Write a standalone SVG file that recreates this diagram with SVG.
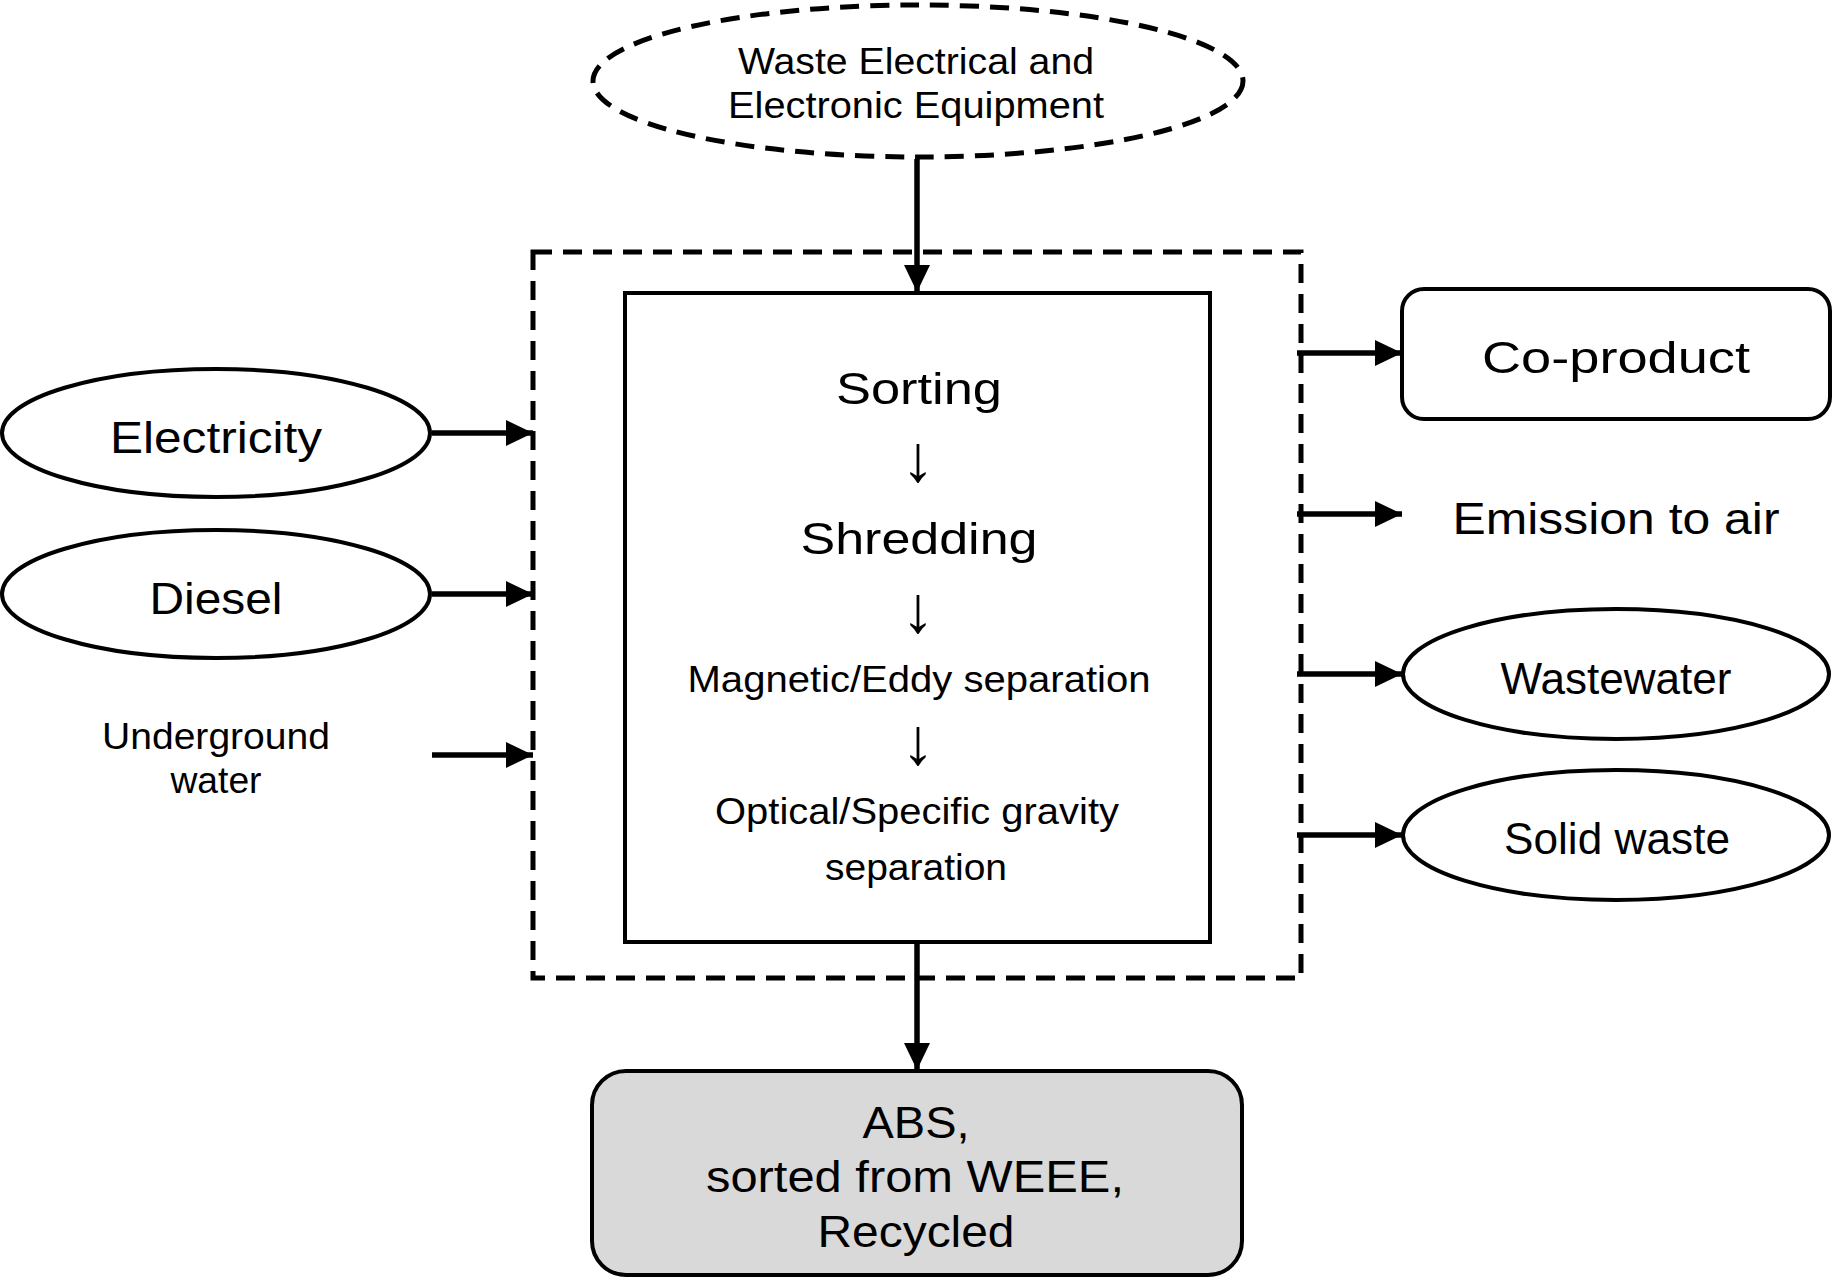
<svg xmlns="http://www.w3.org/2000/svg" width="1833" height="1284" viewBox="0 0 1833 1284">
<style>
  .shape { fill: #ffffff; stroke: #000000; stroke-width: 4; }
  .dash { fill: none; stroke: #000000; stroke-width: 5; stroke-dasharray: 19 11; }
  .conn { fill: none; stroke: #000000; stroke-width: 5.5; }
  text { font-family: "Liberation Sans", Arial, sans-serif; fill: #000000; text-anchor: middle; }
  .t36 { font-size: 36px; }
  .t44 { font-size: 44px; }
  .t45 { font-size: 45px; }
  .arw { font-size: 66px; }
</style>
<defs>
  <marker id="ah" markerUnits="userSpaceOnUse" markerWidth="28" markerHeight="28" viewBox="0 0 28 28" refX="27" refY="14" orient="auto">
    <path d="M0,1 L27,14 L0,27 Z" fill="#000000"/>
  </marker>
</defs>
<rect width="1833" height="1284" fill="#ffffff"/>

<g id="weee">
  <ellipse class="dash" cx="918" cy="81" rx="325" ry="76"/>
  <text class="t36" x="916" y="74" textLength="356" lengthAdjust="spacingAndGlyphs">Waste Electrical and</text>
  <text class="t36" x="916" y="118" textLength="376" lengthAdjust="spacingAndGlyphs">Electronic Equipment</text>
</g>

<g id="system-boundary">
  <rect class="dash" x="533" y="252" width="768" height="726"/>
</g>

<g id="process">
  <rect class="shape" x="625" y="293" width="585" height="649" stroke-width="4.5"/>
  <text class="t45" x="919" y="404" textLength="166" lengthAdjust="spacingAndGlyphs">Sorting</text>
  <text class="arw" x="918" y="481">↓</text>
  <text class="t45" x="919" y="554" textLength="237" lengthAdjust="spacingAndGlyphs">Shredding</text>
  <text class="arw" x="918" y="632">↓</text>
  <text class="t36" x="919" y="692" textLength="463" lengthAdjust="spacingAndGlyphs">Magnetic/Eddy separation</text>
  <text class="arw" x="918" y="764">↓</text>
  <text class="t36" x="917" y="824" textLength="404" lengthAdjust="spacingAndGlyphs">Optical/Specific gravity</text>
  <text class="t36" x="916" y="880" textLength="182" lengthAdjust="spacingAndGlyphs">separation</text>
</g>

<g id="electricity">
  <ellipse class="shape" cx="216" cy="433" rx="214" ry="64"/>
  <text class="t44" x="216" y="453" textLength="212" lengthAdjust="spacingAndGlyphs">Electricity</text>
</g>

<g id="diesel">
  <ellipse class="shape" cx="216" cy="594" rx="214" ry="64"/>
  <text class="t44" x="216" y="614" textLength="133" lengthAdjust="spacingAndGlyphs">Diesel</text>
</g>

<g id="underground-water">
  <text class="t36" x="216" y="749" textLength="228" lengthAdjust="spacingAndGlyphs">Underground</text>
  <text class="t36" x="216" y="793" textLength="91" lengthAdjust="spacingAndGlyphs">water</text>
</g>

<g id="co-product">
  <rect class="shape" x="1402" y="289" width="428" height="130" rx="22" ry="22"/>
  <text class="t44" x="1616" y="373" textLength="268" lengthAdjust="spacingAndGlyphs">Co-product</text>
</g>

<g id="emission-to-air">
  <text class="t44" x="1616" y="534" textLength="327" lengthAdjust="spacingAndGlyphs">Emission to air</text>
</g>

<g id="wastewater">
  <ellipse class="shape" cx="1616" cy="674" rx="213" ry="65"/>
  <text class="t44" x="1616" y="694" textLength="231" lengthAdjust="spacingAndGlyphs">Wastewater</text>
</g>

<g id="solid-waste">
  <ellipse class="shape" cx="1616" cy="835" rx="213" ry="65"/>
  <text class="t44" x="1617" y="854" textLength="226" lengthAdjust="spacingAndGlyphs">Solid waste</text>
</g>

<g id="abs-output">
  <rect class="shape" x="592" y="1071" width="650" height="204" rx="34" ry="34" style="fill:#d9d9d9"/>
  <text class="t44" x="916" y="1138" textLength="107" lengthAdjust="spacingAndGlyphs">ABS,</text>
  <text class="t44" x="915" y="1192" textLength="418" lengthAdjust="spacingAndGlyphs">sorted from WEEE,</text>
  <text class="t44" x="916" y="1247" textLength="197" lengthAdjust="spacingAndGlyphs">Recycled</text>
</g>

<g id="connectors">
  <line class="conn" x1="917" y1="159" x2="917" y2="292" marker-end="url(#ah)"/>
  <line class="conn" x1="917" y1="943" x2="917" y2="1070" marker-end="url(#ah)"/>
  <line class="conn" x1="432" y1="433" x2="533" y2="433" marker-end="url(#ah)"/>
  <line class="conn" x1="432" y1="594" x2="533" y2="594" marker-end="url(#ah)"/>
  <line class="conn" x1="432" y1="755" x2="533" y2="755" marker-end="url(#ah)"/>
  <line class="conn" x1="1297" y1="353" x2="1402" y2="353" marker-end="url(#ah)"/>
  <line class="conn" x1="1297" y1="514" x2="1402" y2="514" marker-end="url(#ah)"/>
  <line class="conn" x1="1297" y1="674" x2="1402" y2="674" marker-end="url(#ah)"/>
  <line class="conn" x1="1297" y1="835" x2="1402" y2="835" marker-end="url(#ah)"/>
</g>
</svg>
